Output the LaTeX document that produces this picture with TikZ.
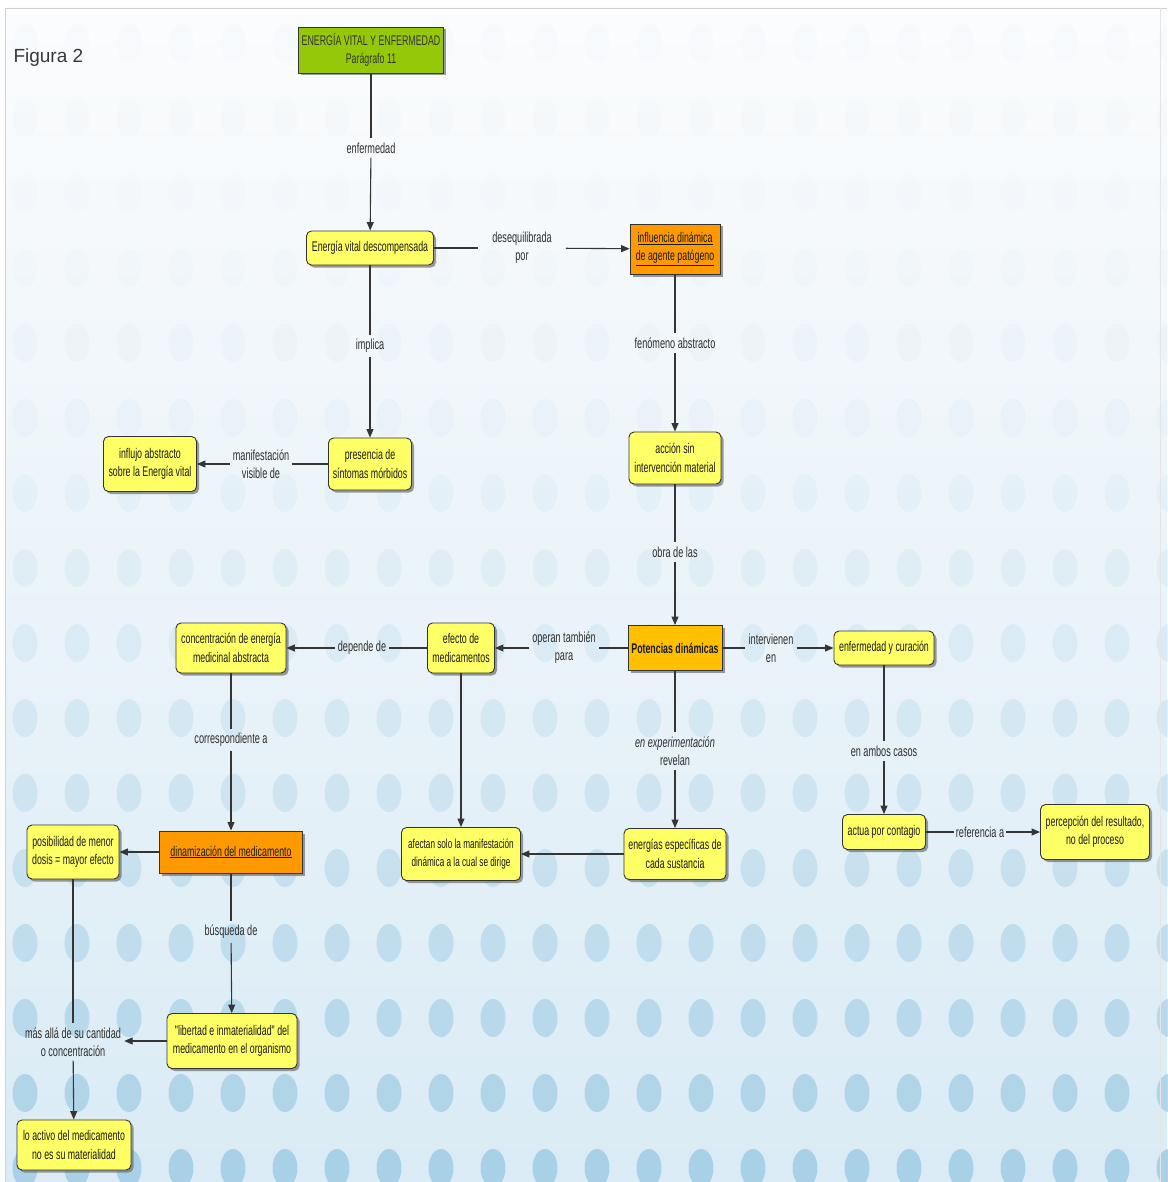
\documentclass[tikz,border=0pt]{standalone}
\usepackage{fontspec}
\setmainfont{Liberation Sans}
\newfontfamily\narrowfont[FakeStretch=0.63]{Liberation Sans}
\usetikzlibrary{arrows.meta,shadows}

\definecolor{boxyellow}{HTML}{FFFF66}
\definecolor{boxorange}{HTML}{FF9900}
\definecolor{boxgold}{HTML}{FFC000}
\definecolor{boxgreen}{HTML}{96C80A}
\definecolor{edgecol}{HTML}{353535}
\definecolor{dotblue}{HTML}{A6D0E7}
\definecolor{bgtop}{HTML}{FBFCFD}
\definecolor{bgmid}{HTML}{EEF4F8}
\definecolor{bgbot}{HTML}{DAEBF5}
\definecolor{txt}{HTML}{1A1A1A}
\definecolor{labtxt}{HTML}{2E2E2E}

\tikzset{
  concept/.style={draw=black!80, line width=0.9pt, fill=boxyellow,
    rounded corners=5pt, align=center, text=txt, inner sep=3pt,
    font=\fontsize{14}{18.5}\selectfont\narrowfont,
    drop shadow={shadow xshift=2.5pt, shadow yshift=-2.5pt,
      fill=black!60, opacity=0.65}},
  keyconcept/.style={concept, sharp corners, fill=boxorange},
  hubconcept/.style={concept, sharp corners, fill=boxgold},
  topic/.style={concept, sharp corners, fill=boxgreen, text=black!80},
  linklabel/.style={text=labtxt, align=center, inner xsep=3pt, inner ysep=4pt,
    font=\fontsize{14.5}{18}\selectfont\narrowfont},
  link/.style={draw=edgecol, line width=1.1pt},
  arrowlink/.style={link, -{Triangle[length=8.5pt,width=7pt]}},
}

\begin{document}
\begin{tikzpicture}[x=1pt, y=-1pt]
\useasboundingbox (0,0) rectangle (1167,1182);

% backdrop: pale gradient with a grid of oval dots fading in downwards
\shade[top color=bgtop, middle color=bgmid, bottom color=bgbot]
  (5,8) rectangle (1167,1182);
\foreach \r in {0,...,15}{
  \pgfmathsetmacro\dotop{0.03+0.92*(\r/15)^2.5}
  \foreach \k in {0,...,22}{
    \fill[dotblue, opacity=\dotop] (25+52*\k, 43+75*\r) ellipse (12.5 and 19);
  }
}
\draw[black!18, line width=0.8pt] (5,1182) -- (5,8) -- (1167,8);
\draw[black!10, line width=0.8pt] (1160,8) -- (1160,1182);

\node[anchor=west, text=black!78, font=\fontsize{19}{22}\selectfont] (fig) at (10,58) {Figura 2};

% concepts
\node[topic, minimum width=136pt, minimum height=46pt] (root) at (371,50)
  {ENERGÍA VITAL Y ENFERMEDAD\\Parágrafo 11};
\node[concept, minimum width=127pt, minimum height=34pt] (evd) at (370,248)
  {Energía vital descompensada};
\node[keyconcept, minimum width=90pt, minimum height=50pt] (inf) at (675,249)
  {\underline{influencia dinámica}\\\underline{de agente patógeno}};
\node[concept, minimum width=83pt, minimum height=52pt] (pres) at (370,464)
  {presencia de\\síntomas mórbidos};
\node[concept, minimum width=93pt, minimum height=55pt] (influjo) at (150,464)
  {influjo abstracto\\sobre la Energía vital};
\node[concept, minimum width=92pt, minimum height=52pt] (accion) at (675,458)
  {acción sin\\intervención material};
\node[hubconcept, minimum width=94pt, minimum height=45pt] (pot) at (675,648)
  {\bfseries Potencias dinámicas};
\node[concept, minimum width=67pt, minimum height=50pt] (efecto) at (461,648)
  {efecto de\\medicamentos};
\node[concept, minimum width=110pt, minimum height=50pt] (conc) at (231,648)
  {concentración de energía\\medicinal abstracta};
\node[concept, minimum width=100pt, minimum height=34pt] (enfcur) at (884,648)
  {enfermedad y curación};
\node[concept, minimum width=83pt, minimum height=35pt] (actua) at (884,832)
  {actua por contagio};
\node[concept, minimum width=109pt, minimum height=55pt] (perc) at (1095,832)
  {percepción del resultado,\\no del proceso};
\node[concept, minimum width=102pt, minimum height=51pt] (energ) at (675,854)
  {energías específicas de\\cada sustancia};
\node[concept, minimum width=119pt, minimum height=53pt,
  font=\fontsize{13}{18}\selectfont\narrowfont] (afect) at (461,854)
  {afectan solo la manifestación\\dinámica a la cual se dirige};
\node[keyconcept, minimum width=143pt, minimum height=42pt] (dinam) at (231,852)
  {\underline{dinamización del medicamento}};
\node[concept, minimum width=92pt, minimum height=54pt] (posib) at (73,852)
  {posibilidad de menor\\dosis = mayor efecto};
\node[concept, minimum width=130pt, minimum height=55pt] (libert) at (232,1041)
  {"libertad e inmaterialidad" del\\medicamento en el organismo};
\node[concept, minimum width=114pt, minimum height=50pt] (activo) at (74,1145)
  {lo activo del medicamento\\no es su materialidad};

% linking phrases
\node[linklabel] (l1) at (371,148) {enfermedad};
\node[linklabel, inner xsep=14pt] (l2) at (522,248) {desequilibrada\\por};
\node[linklabel] (l3) at (370,346) {implica};
\node[linklabel] (l4) at (261,464) {manifestación\\visible de};
\node[linklabel] (l5) at (675,343) {fenómeno abstracto};
\node[linklabel] (l6) at (675,552) {obra de las};
\node[linklabel] (l7) at (564,648) {operan también\\para};
\node[linklabel] (l8) at (771,648) {intervienen\\en};
\node[linklabel] (l9) at (362,648) {depende de};
\node[linklabel] (l10) at (231,740) {correspondiente a};
\node[linklabel] (l11) at (675,751) {\itshape en experimentación\\revelan};
\node[linklabel] (l12) at (884,751) {en ambos casos};
\node[linklabel, inner xsep=2pt] (l13) at (980,832) {referencia a};
\node[linklabel] (l14) at (231,932) {búsqueda de};
\node[linklabel] (l15) at (73,1042) {más allá de su cantidad\\o concentración};

% connectors
\draw[link] (root) -- (l1);      \draw[arrowlink] (l1) -- (evd);
\draw[link] (evd) -- (l2);       \draw[arrowlink] (l2) -- (inf);
\draw[link] (evd) -- (l3);       \draw[arrowlink] (l3) -- (pres);
\draw[link] (pres) -- (l4);      \draw[arrowlink] (l4) -- (influjo);
\draw[link] (inf) -- (l5);       \draw[arrowlink] (l5) -- (accion);
\draw[link] (accion) -- (l6);    \draw[arrowlink] (l6) -- (pot);
\draw[link] (pot) -- (l7);       \draw[arrowlink] (l7) -- (efecto);
\draw[link] (pot) -- (l8);       \draw[arrowlink] (l8) -- (enfcur);
\draw[link] (efecto) -- (l9);    \draw[arrowlink] (l9) -- (conc);
\draw[arrowlink] (efecto) -- (afect);
\draw[link] (pot) -- (l11);      \draw[arrowlink] (l11) -- (energ);
\draw[arrowlink] (energ) -- (afect);
\draw[link] (conc) -- (l10);     \draw[arrowlink] (l10) -- (dinam);
\draw[arrowlink] (dinam) -- (posib);
\draw[link] (dinam) -- (l14);    \draw[arrowlink] (l14) -- (libert);
\draw[link] (enfcur) -- (l12);   \draw[arrowlink] (l12) -- (actua);
\draw[link] (actua) -- (l13);    \draw[arrowlink] (l13) -- (perc);
\draw[link] (posib) -- (l15);    \draw[arrowlink] (l15) -- (activo);
\draw[arrowlink] (libert.west) -- (libert.west -| l15.east);
\end{tikzpicture}
\end{document}
